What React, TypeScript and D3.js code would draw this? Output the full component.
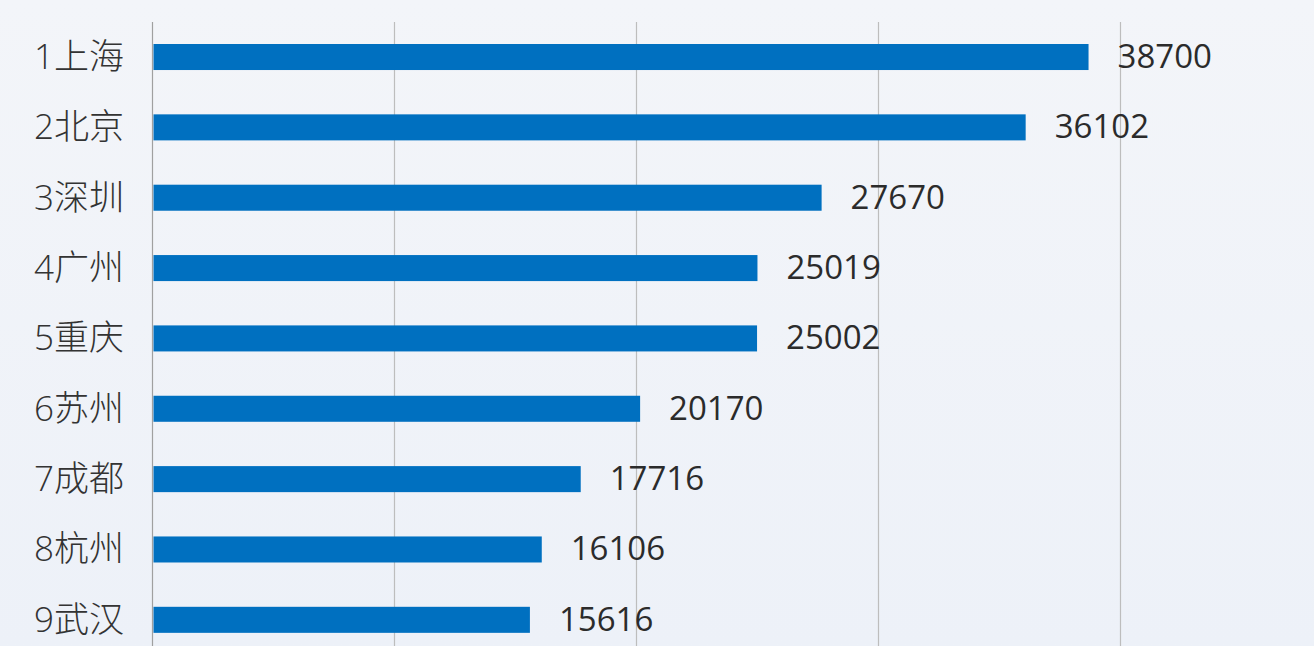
import React from "react";
import * as d3 from "d3";

const categories = ["1上海", "2北京", "3深圳", "4广州", "5重庆", "6苏州", "7成都", "8杭州", "9武汉"];
const values = [38700, 36102, 27670, 25019, 25002, 20170, 17716, 16106, 15616];
const tickValues = [0, 10000, 20000, 30000, 40000];

const W = 1314;
const H = 646;

export default function App() {
  const x = d3.scaleLinear().domain([0, 40000]).range([152, 1120]);
  const y = d3
    .scaleBand<string>()
    .domain(categories)
    .range([21.84, 655])
    .paddingInner(0.63)
    .paddingOuter(0.315);
  const bh = y.bandwidth();
  const font = "'Open Sans', 'Noto Sans CJK SC', sans-serif";
  return (
    <svg
      width={W}
      height={H}
      style={{ position: "absolute", left: 0, top: 0, display: "block" }}
    >
      <defs>
        <linearGradient id="bg" x1="0" y1="0" x2="0" y2="1">
          <stop offset="0" stopColor="#f3f5f9" />
          <stop offset="1" stopColor="#edf1f8" />
        </linearGradient>
      </defs>
      <rect x={0} y={0} width={W} height={H} fill="url(#bg)" />
      {tickValues.map((t) => (
        <line
          key={t}
          x1={Math.round(x(t)) + 0.5}
          x2={Math.round(x(t)) + 0.5}
          y1={22}
          y2={H}
          stroke={t === 0 ? "#a0a0a0" : "#bdbdbd"}
          strokeWidth={1.2}
        />
      ))}
      {categories.map((c, i) => {
        const y0 = y(c)!;
        const cy = y0 + bh / 2;
        return (
          <g key={c}>
            <rect x={x(0) + 1.5} y={y0} width={x(values[i]) - x(0) - 1.5} height={bh} fill="#0070c0" />
            <text
              x={124}
              y={cy + 12}
              textAnchor="end"
              fontSize={35}
              fontWeight={300}
              fontFamily={font}
              fill="#333"
            >
              {c}
            </text>
            <text
              x={x(values[i]) + 29}
              y={cy + 11}
              fontSize={33}
              fontFamily={font}
              fill="#2b2b2b"
            >
              {values[i]}
            </text>
          </g>
        );
      })}
    </svg>
  );
}
